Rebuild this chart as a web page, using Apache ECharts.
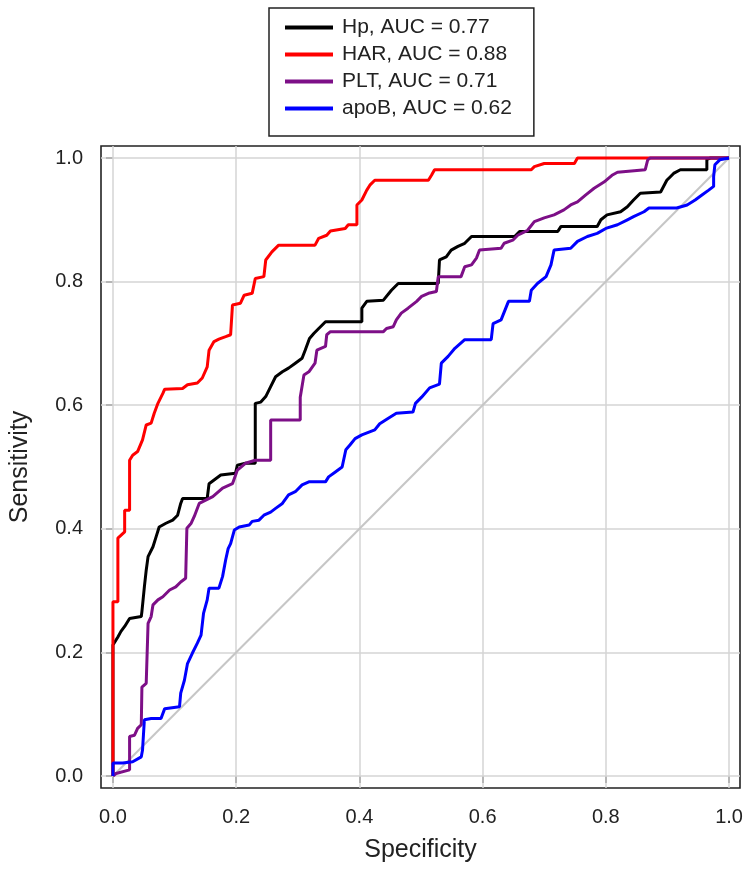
<!DOCTYPE html>
<html>
<head>
<meta charset="utf-8">
<script src="https://cdn.jsdelivr.net/npm/echarts@6/dist/echarts.min.js"></script>
<style>
html,body{margin:0;padding:0;background:#fff;}
#chart{width:750px;height:872px;}
</style>
</head>
<body>
<div id="chart"></div>
<script>
// ---- data ----
const xTicks = [0, 0.2, 0.4, 0.6, 0.8, 1.0];
const yTicks = [0, 0.2, 0.4, 0.6, 0.8, 1.0];
const seriesNames = ['Hp, AUC = 0.77', 'HAR, AUC = 0.88', 'PLT, AUC = 0.71', 'apoB, AUC = 0.62'];
const seriesColors = ['#000000', '#ff0000', '#7d0f87', '#0000ff'];
const xTitle = 'Specificity';
const yTitle = 'Sensitivity';
const reference = [[0, 0], [1, 1]];

const hp = [[0,0],[0,0.212],[0.003,0.212],[0.008,0.225],[0.013,0.234],[0.019,0.242],[0.027,0.255],[0.046,0.258],[0.047,0.266],[0.051,0.306],[0.054,0.333],[0.057,0.355],[0.065,0.371],[0.070,0.387],[0.075,0.403],[0.086,0.409],[0.097,0.414],[0.105,0.422],[0.110,0.441],[0.113,0.449],[0.153,0.449],[0.156,0.473],[0.175,0.487],[0.199,0.490],[0.202,0.503],[0.215,0.506],[0.231,0.506],[0.231,0.603],[0.240,0.605],[0.248,0.614],[0.256,0.630],[0.264,0.646],[0.275,0.654],[0.285,0.660],[0.296,0.668],[0.307,0.676],[0.312,0.689],[0.319,0.708],[0.326,0.716],[0.334,0.724],[0.345,0.735],[0.404,0.735],[0.404,0.757],[0.412,0.768],[0.439,0.770],[0.452,0.786],[0.463,0.797],[0.528,0.797],[0.530,0.835],[0.541,0.840],[0.549,0.851],[0.560,0.857],[0.571,0.862],[0.582,0.873],[0.652,0.873],[0.660,0.881],[0.722,0.881],[0.727,0.889],[0.786,0.889],[0.792,0.900],[0.802,0.908],[0.824,0.913],[0.835,0.921],[0.845,0.932],[0.856,0.943],[0.889,0.945],[0.899,0.964],[0.910,0.975],[0.921,0.981],[0.964,0.981],[0.964,0.998],[0.970,1.0],[1,1]];

const har = [[0,0],[0,0.282],[0.008,0.282],[0.008,0.385],[0.019,0.395],[0.019,0.430],[0.027,0.430],[0.027,0.511],[0.032,0.519],[0.040,0.525],[0.048,0.544],[0.054,0.568],[0.062,0.571],[0.067,0.587],[0.073,0.603],[0.081,0.619],[0.084,0.626],[0.113,0.627],[0.121,0.633],[0.137,0.636],[0.145,0.644],[0.153,0.662],[0.156,0.689],[0.164,0.703],[0.172,0.707],[0.183,0.711],[0.191,0.714],[0.194,0.762],[0.207,0.765],[0.213,0.778],[0.226,0.781],[0.231,0.805],[0.245,0.808],[0.248,0.835],[0.258,0.848],[0.269,0.859],[0.328,0.859],[0.334,0.870],[0.347,0.875],[0.353,0.882],[0.377,0.886],[0.382,0.892],[0.396,0.892],[0.396,0.924],[0.404,0.932],[0.412,0.948],[0.417,0.956],[0.425,0.964],[0.512,0.964],[0.517,0.972],[0.522,0.981],[0.679,0.981],[0.684,0.986],[0.700,0.991],[0.749,0.991],[0.754,1.0],[1,1]];

const plt = [[0,0],[0.005,0.004],[0.027,0.010],[0.027,0.064],[0.035,0.066],[0.040,0.077],[0.046,0.083],[0.047,0.144],[0.054,0.150],[0.057,0.247],[0.062,0.258],[0.065,0.277],[0.073,0.285],[0.081,0.290],[0.092,0.301],[0.102,0.306],[0.110,0.314],[0.118,0.320],[0.120,0.401],[0.127,0.409],[0.132,0.420],[0.140,0.441],[0.162,0.452],[0.178,0.466],[0.194,0.473],[0.202,0.495],[0.215,0.506],[0.231,0.511],[0.256,0.511],[0.256,0.576],[0.304,0.576],[0.304,0.613],[0.310,0.649],[0.318,0.654],[0.328,0.668],[0.331,0.689],[0.345,0.695],[0.347,0.714],[0.353,0.719],[0.439,0.719],[0.444,0.724],[0.455,0.727],[0.460,0.738],[0.468,0.749],[0.479,0.757],[0.493,0.768],[0.501,0.776],[0.512,0.781],[0.525,0.784],[0.528,0.808],[0.565,0.808],[0.571,0.824],[0.582,0.827],[0.590,0.838],[0.595,0.851],[0.630,0.854],[0.635,0.862],[0.649,0.867],[0.657,0.875],[0.673,0.883],[0.684,0.897],[0.700,0.903],[0.716,0.908],[0.732,0.916],[0.743,0.924],[0.754,0.929],[0.767,0.940],[0.781,0.951],[0.797,0.961],[0.810,0.972],[0.819,0.977],[0.864,0.981],[0.868,0.997],[0.872,1.0],[1,1]];

const apob = [[0,0],[0,0.021],[0.016,0.021],[0.032,0.023],[0.046,0.031],[0.048,0.042],[0.051,0.091],[0.062,0.093],[0.078,0.093],[0.084,0.109],[0.108,0.112],[0.110,0.134],[0.116,0.155],[0.121,0.182],[0.129,0.199],[0.137,0.215],[0.143,0.228],[0.147,0.263],[0.153,0.285],[0.156,0.304],[0.172,0.304],[0.178,0.323],[0.183,0.350],[0.187,0.368],[0.191,0.376],[0.197,0.398],[0.205,0.403],[0.221,0.406],[0.226,0.412],[0.237,0.414],[0.245,0.422],[0.256,0.427],[0.264,0.433],[0.275,0.441],[0.285,0.455],[0.296,0.460],[0.307,0.471],[0.318,0.476],[0.345,0.476],[0.350,0.484],[0.361,0.492],[0.372,0.500],[0.378,0.528],[0.385,0.536],[0.393,0.546],[0.404,0.552],[0.425,0.560],[0.433,0.570],[0.447,0.579],[0.460,0.587],[0.487,0.589],[0.491,0.603],[0.501,0.613],[0.514,0.628],[0.530,0.634],[0.533,0.668],[0.544,0.679],[0.555,0.692],[0.571,0.706],[0.614,0.706],[0.617,0.732],[0.630,0.738],[0.642,0.768],[0.676,0.768],[0.679,0.786],[0.689,0.797],[0.703,0.808],[0.711,0.827],[0.716,0.851],[0.743,0.854],[0.754,0.865],[0.770,0.873],[0.786,0.878],[0.800,0.886],[0.819,0.892],[0.835,0.900],[0.845,0.905],[0.862,0.913],[0.870,0.919],[0.915,0.919],[0.932,0.924],[0.945,0.932],[0.956,0.940],[0.967,0.948],[0.975,0.954],[0.975,0.970],[0.977,0.989],[0.985,0.997],[1,1]];

const curves = [hp, har, plt, apob];

// ---- chart ----
const FONT = '"Liberation Sans", Arial, Helvetica, sans-serif';
const TEXT = '#222';
const chart = echarts.init(document.getElementById('chart'), null, {renderer: 'canvas'});

const gridMarks = xTicks.map(v => ({xAxis: v})).concat(yTicks.map(v => ({yAxis: v})));

const series = [{
  name: 'reference',
  type: 'line',
  data: reference,
  symbol: 'none',
  silent: true,
  z: 2,
  lineStyle: {color: '#c6c6c6', width: 2},
  markLine: {
    silent: true,
    z: 1,
    symbol: ['none', 'none'],
    label: {show: false},
    lineStyle: {color: '#d4d4d4', type: 'solid', width: 1.5},
    data: gridMarks
  }
}];
curves.forEach((c, i) => {
  series.push({
    name: seriesNames[i],
    type: 'line',
    data: c,
    symbol: 'none',
    showSymbol: false,
    z: 10 + i,
    color: seriesColors[i],
    itemStyle: {color: seriesColors[i]},
    lineStyle: {color: seriesColors[i], width: 3}
  });
});

chart.setOption({
  animation: false,
  backgroundColor: '#ffffff',
  grid: {
    left: 98, top: 146, width: 642, height: 642,
    show: true, borderColor: '#222', borderWidth: 1.6, backgroundColor: 'transparent'
  },
  legend: {
    data: seriesNames,
    orient: 'vertical',
    left: 269, top: 8,
    padding: [9, 22, 17, 16],
    itemWidth: 48, itemHeight: 4, itemGap: 6,
    icon: 'rect',
    borderColor: '#222', borderWidth: 1.5,
    selectedMode: false,
    textStyle: {fontSize: 21, lineHeight: 21, color: TEXT, fontFamily: FONT, padding: [0, 0, 0, 4]}
  },
  xAxis: {
    type: 'value',
    min: -0.0194, max: 1.0178,
    axisLine: {show: false},
    splitLine: {show: false},
    axisTick: {show: true, customValues: xTicks, length: 7, lineStyle: {color: '#222', width: 1.5}},
    axisLabel: {customValues: xTicks, formatter: v => v.toFixed(1), fontSize: 20, color: TEXT, margin: 19, fontFamily: FONT},
    name: xTitle, nameLocation: 'middle', nameGap: 50,
    nameTextStyle: {fontSize: 25, color: TEXT, fontFamily: FONT}
  },
  yAxis: {
    type: 'value',
    min: -0.0194, max: 1.0194,
    axisLine: {show: false},
    splitLine: {show: false},
    axisTick: {show: true, customValues: yTicks, length: 7, lineStyle: {color: '#222', width: 1.5}},
    axisLabel: {customValues: yTicks, formatter: v => v.toFixed(1), fontSize: 20, color: TEXT, margin: 18, fontFamily: FONT},
    name: yTitle, nameLocation: 'middle', nameGap: 68, nameRotate: 90,
    nameTextStyle: {fontSize: 25, color: TEXT, fontFamily: FONT}
  },
  series: series
});
</script>
</body>
</html>
